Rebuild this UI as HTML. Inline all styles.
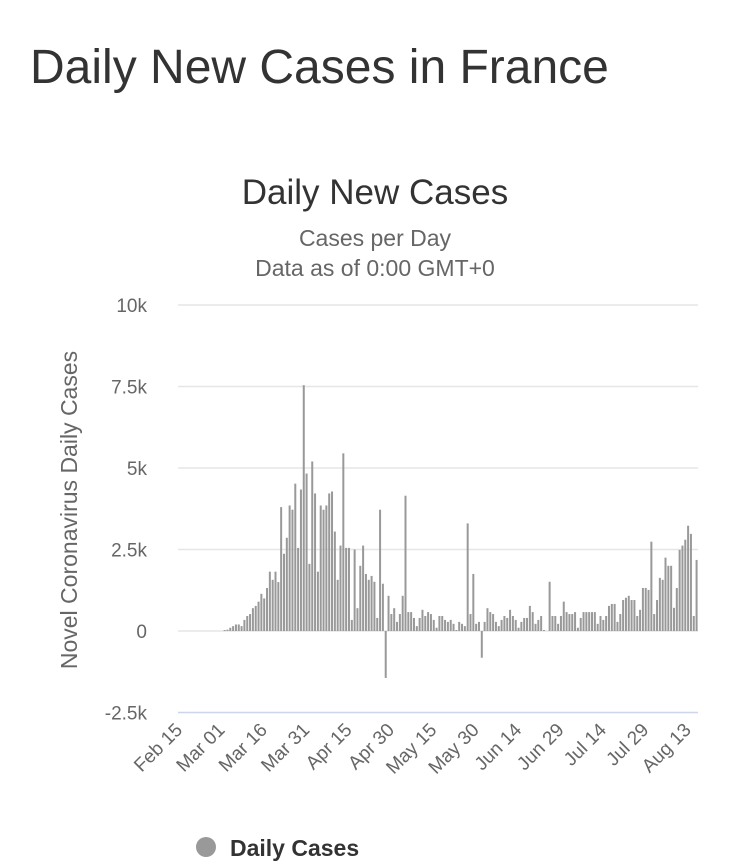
<!DOCTYPE html>
<html><head><meta charset="utf-8"><style>
body{margin:0;background:#fff;width:750px;height:864px;overflow:hidden;font-family:"Liberation Sans",sans-serif}
h1{position:absolute;left:30px;top:40px;margin:0;font-weight:normal;font-size:48px;color:#333}
</style></head><body>
<h1>Daily New Cases in France</h1>
<svg id="c" width="750" height="864" style="position:absolute;left:0;top:0"></svg>
<script>
const yTicks=[-2500,0,2500,5000,7500,10000];
const yTickLabels=["-2.5k","0","2.5k","5k","7.5k","10k"];
const xTickLabels=["Feb 15","Mar 01","Mar 16","Mar 31","Apr 15","Apr 30","May 15","May 30","Jun 14","Jun 29","Jul 14","Jul 29","Aug 13"];
const startOffset=16;
const dailyCases=[30,40,100,150,200,200,150,340,460,520,700,770,900,1140,1000,1320,1820,1570,1820,1500,3800,2370,2860,3850,3720,4520,2550,4340,7540,4830,2060,5200,4220,1820,3850,3720,3850,4220,4280,3050,1570,2620,5450,2550,2550,340,2500,
700,2000,2620,1750,1570,1690,1510,400,3720,1450,-1440,1080,520,700,280,520,1080,4150,580,580,400,150,400,650,460,580,520,340,100,460,460,340,280,340,220,30,280,220,150,3300,520,1750,220,280,-820,280,700,580,520,280,150,340,460,400,650,460,340,100,280,400,400,770,
580,220,340,460,30,0,1510,460,460,220,460,900,580,520,520,580,100,400,580,580,580,580,580,220,460,340,460,770,830,830,280,520,950,1020,1080,950,950,460,650,1320,1320,1260,2740,520,950,1630,1570,2250,2000,2000,710,1320,2490,2620,2800,3230,2980,460,2180];
const NS="http://www.w3.org/2000/svg",svg=document.getElementById('c');
const L=178,R=698,total=startOffset+dailyCases.length,pd=(R-L)/total;
const y=v=>631-v*0.0326, x=i=>L+(i+0.5)*pd;
function mk(t,a,txt){const e=document.createElementNS(NS,t);for(const k in a)e.setAttribute(k,a[k]);if(txt!==undefined)e.textContent=txt;svg.appendChild(e);return e;}
let e;
e=mk('text',{x:375,y:204,'text-anchor':'middle','font-size':35,fill:'#333'},'Daily New Cases');

e=mk('text',{x:375,y:246,'text-anchor':'middle','font-size':23,fill:'#666'},'Cases per Day');

e=mk('text',{x:375,y:276,'text-anchor':'middle','font-size':23,fill:'#666'},'Data as of 0:00 GMT+0');

yTicks.forEach((v,i)=>{
 e=mk('line',{x1:L,x2:R,y1:y(v),y2:y(v),stroke:i==0?'#ccd6eb':'#e6e6e6','stroke-width':1.5});
 
 e=mk('text',{x:147,y:y(v)+7,'text-anchor':'end','font-size':19,fill:'#666'},yTickLabels[i]);
 
});
e=mk('text',{x:0,y:0,transform:'translate(77,510) rotate(-90)','text-anchor':'middle','font-size':23,fill:'#666'},'Novel Coronavirus Daily Cases');

dailyCases.forEach((v,i)=>{
 const xx=x(i+startOffset)-1;
 e=mk('rect',{x:xx,y:Math.min(y(v),y(0)),width:2,height:Math.abs(y(v)-y(0)),fill:'#999'});
 
});
xTickLabels.forEach((t,i)=>{
 const xx=x(i*15)+4;
 e=mk('text',{x:0,y:0,transform:`translate(${xx},731) rotate(-45)`,'text-anchor':'end','font-size':19,fill:'#666'},t);
 
});
e=mk('circle',{cx:206,cy:847,r:10,fill:'#999'});

e=mk('text',{x:230,y:856,'font-size':23,'font-weight':'bold',fill:'#333'},'Daily Cases');

</script>
</body></html>
